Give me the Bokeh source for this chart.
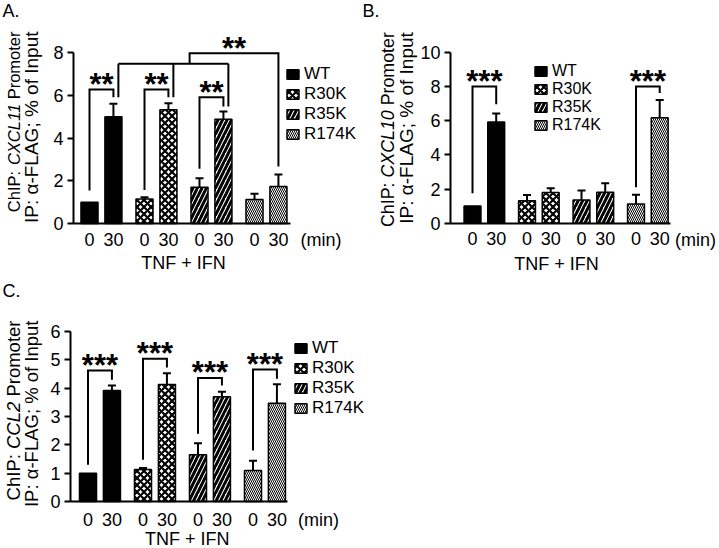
import json, math
from bokeh.plotting import figure
from bokeh.models import (ColumnDataSource, Whisker, TeeHead, Label, Legend, LegendItem,
                          FixedTicker, CustomJSTickFormatter, Range1d)
from bokeh.layouts import column, row
from bokeh.core.properties import value
from bokeh.embed import file_html
from bokeh.resources import INLINE

# ---------------- data ----------------
variants = ["WT", "R30K", "R35K", "R174K"]
time_labels = ["0", "30"]
group_label = "TNF + IFN"
time_unit = "(min)"

# bar order: WT 0, WT 30, R30K 0, R30K 30, R35K 0, R35K 30, R174K 0, R174K 30
cxcl11_mean = [1.0, 5.0, 1.15, 5.32, 1.70, 4.88, 1.12, 1.73]
cxcl11_err = [0.0, 0.60, 0.08, 0.30, 0.42, 0.36, 0.27, 0.56]
cxcl11_yticks = [0, 2, 4, 6, 8]

cxcl10_mean = [1.0, 5.92, 1.32, 1.79, 1.36, 1.81, 1.13, 6.16]
cxcl10_err = [0.0, 0.50, 0.33, 0.25, 0.55, 0.52, 0.53, 1.05]
cxcl10_yticks = [0, 2, 4, 6, 8, 10]

ccl2_mean = [1.0, 3.92, 1.13, 4.13, 1.65, 3.70, 1.09, 3.47]
ccl2_err = [0.0, 0.17, 0.05, 0.40, 0.41, 0.17, 0.35, 0.67]
ccl2_yticks = [0, 1, 2, 3, 4, 5, 6]

# significance brackets (0 vs 30 min within a group)
cxcl11_pair_groups = [0, 1, 2]
cxcl11_pair_height = [6.27, 6.27, 5.91]
cxcl11_pair_left_end = [1.54, 1.57, 2.56]
cxcl11_pair_right_end = [5.91, 5.91, 5.47]
cxcl11_pair_stars = ["**", "**", "**"]
# 30 min bars of WT/R30K/R35K vs R174K 30 min
cxcl11_join_groups = [0, 1, 2]
cxcl11_join_height = 7.47
cxcl11_join_ends = [5.91, 5.91, 5.47]
cxcl11_top_height = 7.97
cxcl11_top_from = 1.82
cxcl11_top_group = 3
cxcl11_top_end = 2.67
cxcl11_top_stars = "**"

cxcl10_pair_groups = [0, 3]
cxcl10_pair_height = [8.0, 8.0]
cxcl10_pair_left_end = [1.75, 2.1]
cxcl10_pair_right_end = [6.95, 7.62]
cxcl10_pair_stars = ["***", "***"]

ccl2_pair_groups = [0, 1, 2, 3]
ccl2_pair_height = [4.62, 5.04, 4.36, 4.66]
ccl2_pair_left_end = [1.3, 1.47, 2.39, 1.8]
ccl2_pair_right_end = [4.3, 4.73, 4.09, 4.33]
ccl2_pair_stars = ["***", "***", "***", "***"]

# ---------------- styles ----------------
FONT = "Liberation Sans"
STAR_FONT = "Liberation Sans"
STAR_SIZE = "31px"
BAR_W = 0.31
PAIR_OFF = 0.435
JOIN_DX = 0.09
FILL = {"WT": "black", "R30K": "white", "R35K": "white", "R174K": "white"}
HATCH = {"WT": None, "R30K": "x", "R35K": "/", "R174K": "\\"}
HSCALE = {"WT": 6, "R30K": 7, "R35K": 9, "R174K": 4}
HWEIGHT = {"WT": 1, "R30K": 2.2, "R35K": 3, "R174K": 1}
W_EM = {'C': .722, 'h': .556, 'I': .278, 'P': .667, ':': .278, ' ': .278, 'X': .667,
        'L': .556, '1': .556, '0': .556, '2': .556, 'r': .333, 'o': .556, 'm': .833,
        't': .278, 'e': .556}


def x_pos(i):
    g, t = divmod(i, 2)
    return g + PAIR_OFF * t


def text_em(s):
    return sum(W_EM.get(c, 0.556) for c in s)


def build_panel(cfg, letter, gene, means, errs, y_ticks,
                pair_groups, pair_h, pair_lo, pair_ro, pair_stars):
    W, H = cfg["W"], cfg["H"]
    ox, oy, ppx, ppy = cfg["ox"], cfg["oy"], cfg["ppx"], cfg["ppy"]

    def X(px):
        return (px - ox) / ppx

    def Y(py):
        return (oy - py) / ppy

    p = figure(width=W, height=H, x_range=Range1d(X(0), X(W)), y_range=Range1d(Y(H), Y(0)),
               output_backend="svg", toolbar_location=None,
               min_border_left=0, min_border_right=0, min_border_top=0,
               min_border_bottom=0)
    p.outline_line_color = None
    p.xgrid.visible = False
    p.ygrid.visible = False
    p.background_fill_color = "white"
    p.border_fill_color = "white"

    yax = p.yaxis[0]
    yax.fixed_location = X(cfg["yaxis_px"])
    yax.bounds = (y_ticks[0], y_ticks[-1])
    yax.ticker = FixedTicker(ticks=y_ticks)
    yax.minor_tick_line_color = None
    yax.major_tick_in = 0
    yax.major_tick_out = 6
    yax.major_tick_line_width = 2
    yax.axis_line_width = 2
    yax.axis_line_color = "black"
    yax.major_tick_line_color = "black"
    yax.major_label_text_font = FONT
    yax.major_label_text_font_size = "18px"
    yax.major_label_text_color = "black"
    yax.major_label_standoff = 4

    xax = p.xaxis[0]
    xax.fixed_location = 0
    xax.bounds = (X(cfg["yaxis_px"]), X(cfg["xaxis_end"]))
    xax.ticker = FixedTicker(ticks=[x_pos(i) for i in range(len(means))])
    xax.formatter = CustomJSTickFormatter(
        code="const labels = %s; return labels[index];" % json.dumps(time_labels * len(variants)))
    xax.major_tick_line_color = None
    xax.minor_tick_line_color = None
    xax.major_tick_in = 0
    xax.major_tick_out = 0
    xax.axis_line_width = 2
    xax.axis_line_color = "black"
    xax.major_label_text_font = FONT
    xax.major_label_text_font_size = "18px"
    xax.major_label_text_color = "black"
    xax.major_label_standoff = cfg["xstand"]

    items = []
    for k, v in enumerate(variants):
        idx = [2 * k, 2 * k + 1]
        src = ColumnDataSource(dict(x=[x_pos(i) for i in idx], top=[means[i] for i in idx]))
        r = p.vbar(x="x", top="top", bottom=0, width=BAR_W, source=src,
                   fill_color=FILL[v], line_color="black", line_width=1.5,
                   hatch_pattern=HATCH[v], hatch_scale=HSCALE[v], hatch_weight=HWEIGHT[v],
                   hatch_color="black")
        items.append(LegendItem(label=v, renderers=[r]))

    ei = [i for i in range(len(means)) if errs[i] > 0]
    esrc = ColumnDataSource(dict(x=[x_pos(i) for i in ei], lo=[means[i] for i in ei],
                                 hi=[means[i] + errs[i] for i in ei]))
    p.add_layout(Whisker(source=esrc, base="x", lower="lo", upper="hi", dimension="height",
                         line_width=2, line_color="black",
                         upper_head=TeeHead(size=8, line_width=2, line_color="black"),
                         lower_head=None))

    # brackets
    bxs, bys, sx, sy, st = [], [], [], [], []
    for g, h, lo, ro, s in zip(pair_groups, pair_h, pair_lo, pair_ro, pair_stars):
        xl, xr = x_pos(2 * g), x_pos(2 * g + 1)
        bxs.append([xl, xl, xr, xr])
        bys.append([lo, h, h, ro])
        sx.append((xl + xr) / 2)
        sy.append(h)
        st.append(s)
    p.multi_line(bxs, bys, line_color="black", line_width=2, line_join="miter")
    stars_src = ColumnDataSource(dict(x=sx, y=sy, text=st))
    p.text(x="x", y="y", text="text", source=stars_src, text_align="center",
           text_baseline="middle", y_offset=cfg["star_off"],
           text_font=value(STAR_FONT), text_font_style="bold", text_font_size=STAR_SIZE,
           text_color="black")

    n = len(variants)
    pitch = cfg["leg_pitch"]
    leg_bottom = int(round(H - (cfg["leg_top"] + n * pitch)))
    legend = Legend(items=items, location=(int(round(cfg["leg_x"])), leg_bottom),
                    padding=0, margin=0, spacing=0, label_height=pitch,
                    glyph_height=12, glyph_width=15, label_standoff=4,
                    label_text_font=FONT, label_text_font_size="%dpx" % cfg["leg_font"],
                    label_text_color="black", border_line_color=None,
                    background_fill_alpha=0)
    p.add_layout(legend)

    def label(px, py, text, **kw):
        base = dict(text_font=FONT, text_color="black", text_font_size="18px")
        base.update(kw)
        p.add_layout(Label(x=X(px), y=Y(py), text=text, **base))

    # panel letter
    label(cfg["letter"][0], cfg["letter"][1], letter + ".", text_align="left",
          text_baseline="top")

    # y-axis title, line 1 with italic gene name, right-aligned at top
    f1 = cfg["tf1"]
    segs = [("ChIP:", "normal"), (gene, "italic"), ("Promoter", "normal")]
    pos = cfg["ttop"]
    for txt, style in reversed(segs):
        label(cfg["tx1"], pos, txt, angle=math.pi / 2, text_align="right",
              text_baseline="middle", text_font_style=style,
              text_font_size="%.1fpx" % f1)
        pos += (text_em(txt) + W_EM[' ']) * f1
    label(cfg["tx2"], cfg["ttop"], "IP: α-FLAG; % of Input", angle=math.pi / 2,
          text_align="right", text_baseline="middle", text_font_size="%.1fpx" % cfg["tf2"])

    label(cfg["xlab"][0], cfg["xlab"][1], group_label, text_align="center",
          text_baseline="middle")
    label(cfg["minlab"][0], cfg["minlab"][1], time_unit, text_align="center",
          text_baseline="middle")
    return p, X


cfg_a = dict(W=360, H=278, ox=89, oy=223, ppx=55, ppy=171 / 8, yaxis_px=73, xaxis_end=290,
             xstand=9, star_off=-5, leg_x=285, leg_top=64, leg_pitch=20,
             leg_font=17, letter=(2, 0), tx1=13, tx2=31, ttop=31, tf1=16.5, tf2=19,
             xlab=(183, 262), minlab=(320.5, 239))
cfg_b = dict(W=359, H=278, ox=112, oy=222.7, ppx=54.5, ppy=17.1, yaxis_px=90, xaxis_end=310,
             xstand=9, star_off=-5, leg_x=172.7, leg_top=62, leg_pitch=18,
             leg_font=16, letter=(2, 0), tx1=27.5, tx2=45.5, ttop=31.7, tf1=17.8, tf2=19,
             xlab=(196, 263), minlab=(335, 239))
cfg_c = dict(W=719, H=270, ox=87.5, oy=223, ppx=55, ppy=170 / 6, yaxis_px=70, xaxis_end=287,
             xstand=11, star_off=-5, leg_x=293, leg_top=60, leg_pitch=20,
             leg_font=17, letter=(2, 2), tx1=12.5, tx2=30.5, ttop=42, tf1=18.5, tf2=18.5,
             xlab=(186.7, 260), minlab=(318, 241))

pA, XA = build_panel(cfg_a, "A", "CXCL11", cxcl11_mean, cxcl11_err, cxcl11_yticks,
                     cxcl11_pair_groups, cxcl11_pair_height, cxcl11_pair_left_end,
                     cxcl11_pair_right_end, cxcl11_pair_stars)
# extra comparison brackets for panel A
jx = [x_pos(2 * g + 1) + JOIN_DX for g in cxcl11_join_groups]
tx = x_pos(2 * cxcl11_top_group + 1)
jxs = [[jx[0], jx[-1]]] + [[x, x] for x in jx] + \
      [[cxcl11_top_from, cxcl11_top_from, tx, tx]]
jys = [[cxcl11_join_height, cxcl11_join_height]] + \
      [[cxcl11_join_height, e] for e in cxcl11_join_ends] + \
      [[cxcl11_join_height, cxcl11_top_height, cxcl11_top_height, cxcl11_top_end]]
pA.multi_line(jxs, jys, line_color="black", line_width=2, line_join="miter")
pA.text(x=[(cxcl11_top_from + tx) / 2], y=[cxcl11_top_height], text=[cxcl11_top_stars],
        text_align="center", text_baseline="middle", y_offset=cfg_a["star_off"],
        text_font=value(STAR_FONT), text_font_style="bold", text_font_size=STAR_SIZE,
        text_color="black")

pB, _ = build_panel(cfg_b, "B", "CXCL10", cxcl10_mean, cxcl10_err, cxcl10_yticks,
                    cxcl10_pair_groups, cxcl10_pair_height, cxcl10_pair_left_end,
                    cxcl10_pair_right_end, cxcl10_pair_stars)
pC, _ = build_panel(cfg_c, "C", "CCL2", ccl2_mean, ccl2_err, ccl2_yticks,
                    ccl2_pair_groups, ccl2_pair_height, ccl2_pair_left_end,
                    ccl2_pair_right_end, ccl2_pair_stars)

layout = column(row(pA, pB), pC)
with open("out.html", "w") as f:
    f.write(file_html(layout, INLINE))
